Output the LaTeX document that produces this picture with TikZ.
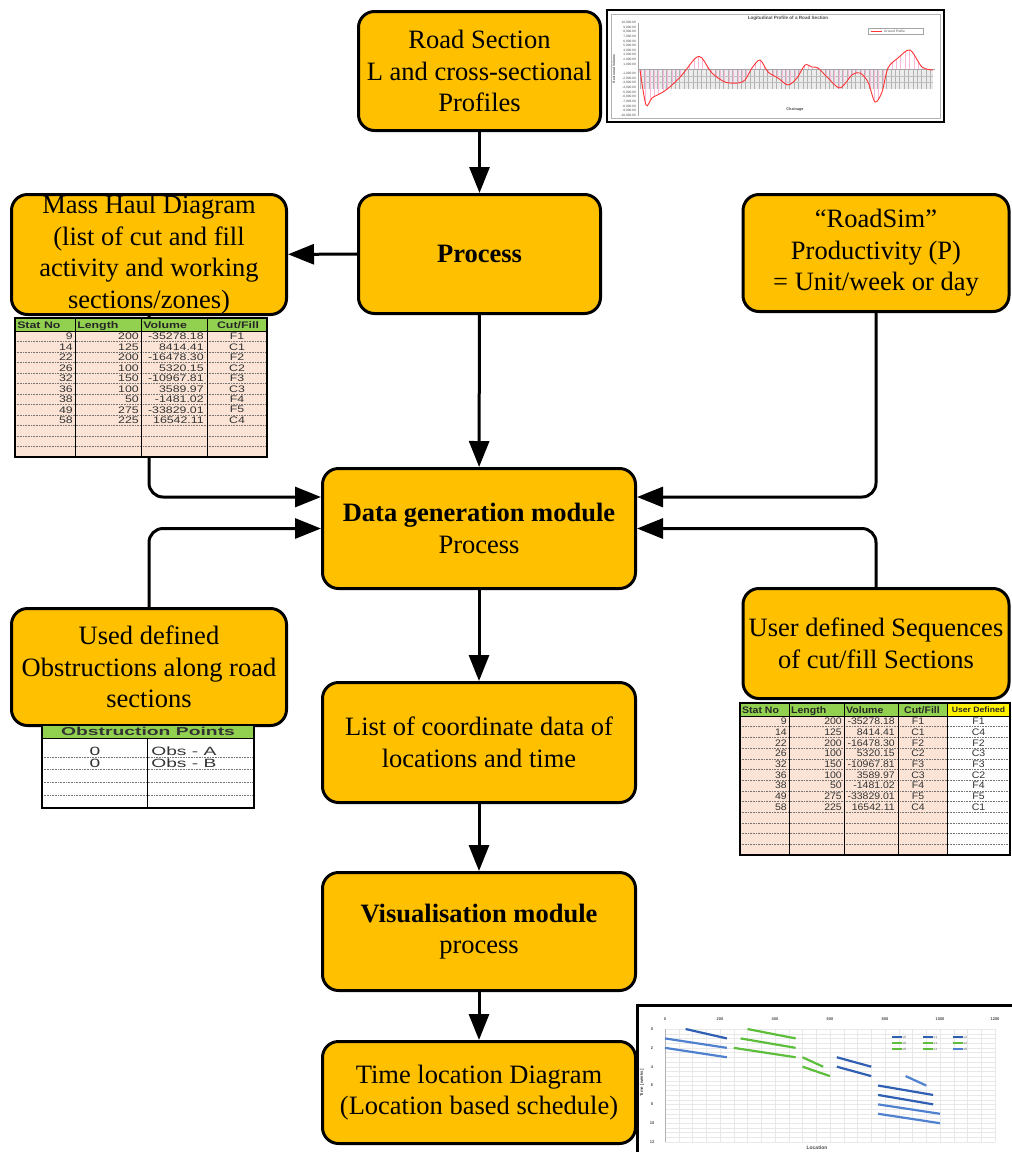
\documentclass[tikz,border=0pt]{standalone}
\usepackage{fontspec}
\setmainfont{Liberation Serif}
\setsansfont{Liberation Sans}
\usetikzlibrary{arrows.meta,positioning,calc}
\definecolor{BoxOrange}{HTML}{FFC000}
\definecolor{HeadGreen}{HTML}{92D050}
\definecolor{Peach}{HTML}{FBE4D5}
\definecolor{RoadBlue}{HTML}{2F5FB3}
\definecolor{RoadBlueL}{HTML}{4F81D0}
\definecolor{RoadGreen}{HTML}{5DBE3C}
\tikzset{
  procbox/.style={draw=black, line width=3pt, rounded corners=16pt,
    fill=BoxOrange, align=center, inner sep=0pt,
    font=\fontsize{26.5}{31.5}\selectfont},
  flowarr/.style={-{Triangle[length=26pt,width=20pt]}, line width=3pt},
  tabtxt/.style={font=\sffamily\fontsize{9.5}{9.5}\selectfont, inner sep=0pt,
    text=black!80, xscale=1.3, transform shape},
  tabhead/.style={font=\sffamily\bfseries\fontsize{9.5}{9.5}\selectfont, inner sep=0pt,
    text=black!85, xscale=1.3, transform shape},
  obtxt/.style={font=\sffamily\fontsize{12}{12}\selectfont, inner sep=0pt,
    text=black!80, xscale=1.6, transform shape},
  tabdots/.style={black!55, line width=0.5pt, dash pattern=on 0.8pt off 0.8pt},
  chtxt/.style={font=\sffamily\fontsize{3.2}{3.2}\selectfont, inner sep=0pt, text=black!70},
}

\begin{document}
\begin{tikzpicture}[x=1pt, y=-1pt,
  tl/.style={line width=2.2pt},
]
  \useasboundingbox (0,0) rectangle (1012,1152);

  % flow boxes
  \node[procbox, minimum width=242pt, minimum height=119pt] (rs) at (479.5,71)
    {Road Section\\L and cross-sectional\\Profiles};
  \node[procbox, minimum width=242pt, minimum height=119pt] (pr) at (479.5,254)
    {\textbf{Process}};
  \node[procbox, minimum width=275pt, minimum height=120pt] (mh) at (149,254.5)
    {Mass Haul Diagram\\(list of cut and fill\\activity and working\\sections/zones)};
  \node[procbox, minimum width=266pt, minimum height=117pt] (rsim) at (876,253)
    {“RoadSim”\\Productivity (P)\\= Unit/week or day};
  \node[procbox, minimum width=313pt, minimum height=120pt] (dg) at (479,528.5)
    {\textbf{Data generation module}\\Process};
  \node[procbox, minimum width=275pt, minimum height=117pt] (ob) at (149,667)
    {Used defined\\Obstructions along road\\sections};
  \node[procbox, minimum width=266pt, minimum height=110pt] (us) at (876,643.5)
    {User defined Sequences\\of cut/fill Sections};
  \node[procbox, minimum width=313pt, minimum height=120pt] (lc) at (479,742.5)
    {List of coordinate data of\\locations and time};
  \node[procbox, minimum width=313pt, minimum height=118pt] (vm) at (479,931.5)
    {\textbf{Visualisation module}\\process};
  \node[procbox, minimum width=313pt, minimum height=102pt] (tld) at (479,1092.5)
    {Time location Diagram\\(Location based schedule)};

  % connectors
  \draw[flowarr] (rs) -- (pr);
  \draw[flowarr] (pr) -- (mh);
  \draw[flowarr] (pr) -- (dg);
  \draw[flowarr] (dg) -- (lc);
  \draw[flowarr] (lc) -- (vm);
  \draw[flowarr] (vm) -- (tld);
  \draw[flowarr, rounded corners=14pt] (mh.south) |- ($(dg.west)+(0,-31.5)$);
  \draw[flowarr, rounded corners=14pt] (ob.north) |- (dg.west);
  \draw[flowarr, rounded corners=14pt] (rsim.south) |- ($(dg.east)+(0,-31.5)$);
  \draw[flowarr, rounded corners=14pt] (us.north) |- (dg.east);

  % mass haul table
  \fill[Peach] (15,331) rectangle (267,457);
  \fill[HeadGreen] (15,318) rectangle (267,331);
  \foreach \r in {1,...,11}
    \draw[tabdots] (15,{331+\r*10.5}) -- (267,{331+\r*10.5});
  \foreach \c in {75,141,207}
    \draw[line width=1pt] (\c,318) -- (\c,457);
  \draw[line width=1pt] (15,331) -- (267,331);
  \draw[line width=1.6pt] (15,318) rectangle (267,457);
  \node[tabhead, anchor=base west] (mhh1) at (17,328) {Stat No};
  \node[tabhead, anchor=base west] (mhh2) at (77,328) {Length};
  \node[tabhead, anchor=base west] (mhh3) at (143,328) {Volume};
  \node[tabhead, anchor=base] (mhh4) at (238,328) {Cut/Fill};
  \foreach \s/\l/\v/\f [count=\i] in {9/200/-35278.18/F1, 14/125/8414.41/C1,
      22/200/-16478.30/F2, 26/100/5320.15/C2, 32/150/-10967.81/F3,
      36/100/3589.97/C3, 38/50/-1481.02/F4, 49/275/-33829.01/F5,
      58/225/16542.11/C4} {
    \node[tabtxt, anchor=east] (mhs\i) at (73,{331+(\i-0.5)*10.5}) {\s};
    \node[tabtxt, anchor=east] (mhl\i) at (139,{331+(\i-0.5)*10.5}) {\l};
    \node[tabtxt, anchor=east] (mhv\i) at (204,{331+(\i-0.5)*10.5}) {\v};
    \node[tabtxt] (mhf\i) at (237,{331+(\i-0.5)*10.5}) {\f};
  }

  % user defined sequence table
  \fill[Peach] (740,716) rectangle (947,855);
  \fill[white] (947,716) rectangle (1010,855);
  \fill[HeadGreen] (740,703) rectangle (947,716);
  \fill[yellow] (947,703) rectangle (1010,716);
  \foreach \r in {1,...,12}
    \draw[tabdots] (740,{716+\r*10.7}) -- (1010,{716+\r*10.7});
  \foreach \c in {789,844,898,947}
    \draw[line width=1pt] (\c,703) -- (\c,855);
  \draw[line width=1pt] (740,716) -- (1010,716);
  \draw[line width=1.6pt] (740,703) rectangle (1010,855);
  \begin{scope}[every node/.append style={xscale=0.85}]
    \node[tabhead, anchor=base west] (udh1) at (742,713) {Stat No};
    \node[tabhead, anchor=base west] (udh2) at (791,713) {Length};
    \node[tabhead, anchor=base west] (udh3) at (846,713) {Volume};
    \node[tabhead, anchor=base] (udh4) at (922,713) {Cut/Fill};
    \node[tabhead, anchor=base, font=\sffamily\bfseries\fontsize{7.8}{7.8}\selectfont] (udh5) at (978.5,712.5) {User Defined};
    \foreach \s/\l/\v/\f/\u [count=\i] in {9/200/-35278.18/F1/F1, 14/125/8414.41/C1/C4,
        22/200/-16478.30/F2/F2, 26/100/5320.15/C2/C3, 32/150/-10967.81/F3/F3,
        36/100/3589.97/C3/C2, 38/50/-1481.02/F4/F4, 49/275/-33829.01/F5/F5,
        58/225/16542.11/C4/C1} {
      \node[tabtxt, anchor=east] (uds\i) at (787,{716+(\i-0.5)*10.7}) {\s};
      \node[tabtxt, anchor=east] (udl\i) at (842,{716+(\i-0.5)*10.7}) {\l};
      \node[tabtxt, anchor=east] (udv\i) at (895,{716+(\i-0.5)*10.7}) {\v};
      \node[tabtxt] (udf\i) at (918,{716+(\i-0.5)*10.7}) {\f};
      \node[tabtxt] (udu\i) at (978.5,{716+(\i-0.5)*10.7}) {\u};
    }
  \end{scope}

  % obstruction table
  \fill[HeadGreen] (42,725) rectangle (254,738);
  \foreach \y in {757,769,782,795}
    \draw[tabdots] (42,\y) -- (254,\y);
  \draw[line width=1pt] (147,738) -- (147,808);
  \draw[line width=1pt] (42,738) -- (254,738);
  \draw[line width=1.6pt] (42,725) rectangle (254,808);
  \node[obtxt, font=\sffamily\bfseries\fontsize{11.5}{11.5}\selectfont, xscale=1.05] (obh) at (148,731.5) {Obstruction Points};
  \node[obtxt] (obz1) at (95,751) {0};
  \node[obtxt] (obz2) at (95,763) {0};
  \node[obtxt, anchor=west] (oba) at (151,751) {Obs - A};
  \node[obtxt, anchor=west] (obb) at (151,763) {Obs - B};

  % longitudinal profile chart
  \fill[white] (607,10) rectangle (944,122);
  \draw[gray!60, line width=0.5pt] (611,14) rectangle (940,118);
  \draw[line width=2pt] (607,10) rectangle (944,122);
  \fill[gray!15] (640,69) rectangle (933,89);
  \foreach \k in {0,...,66}
    \draw[gray!60, line width=0.3pt] ({640+\k*4.4},69) -- ++(0,20);
  \foreach \y in {76,82}
    \draw[gray!50, line width=0.3pt] (640,\y) -- (933,\y);
  \begin{scope}
    \clip plot[smooth] coordinates {(640,70) (646,105) (652,98) (663,92) (672,85)
      (682,75) (692,62) (697,57) (702,58) (712,73) (725,82) (738,83) (745,80)
      (752,68) (760,60) (768,72) (778,78) (788,85) (797,78) (805,65) (812,67)
      (818,68) (828,78) (840,88) (852,75) (860,73) (868,82) (875,102) (882,92)
      (888,68) (898,58) (910,50) (922,67) (933,70)} -- (933,69) -- (640,69) -- cycle;
    \foreach \k in {0,...,66}
      \draw[magenta!28, line width=0.4pt] ({641+\k*4.4},20) -- ++(0,98);
  \end{scope}
  \draw[gray!70, line width=0.4pt] (638,23) -- (638,116);
  \draw[gray!70, line width=0.4pt] (638,69) -- (935,69);
  \draw[red!80, line width=0.9pt] plot[smooth] coordinates {(640,70) (646,105) (652,98) (663,92) (672,85)
      (682,75) (692,62) (697,57) (702,58) (712,73) (725,82) (738,83) (745,80)
      (752,68) (760,60) (768,72) (778,78) (788,85) (797,78) (805,65) (812,67)
      (818,68) (828,78) (840,88) (852,75) (860,73) (868,82) (875,102) (882,92)
      (888,68) (898,58) (910,50) (922,67) (933,70)};
  \foreach \v in {10,...,-10} {
    \ifnum\v=0
      \node[chtxt, anchor=east] (pcy\v) at (636,{69-\v*4.65}) {-};
    \else
      \node[chtxt, anchor=east] (pcy\v) at (636,{69-\v*4.65}) {\v,000.00};
    \fi
  }
  \node[chtxt, font=\sffamily\bfseries\fontsize{4.6}{4.6}\selectfont] (pctitle) at (788,18) {Logitudinal Profile of a Road Section};
  \node[chtxt, rotate=90, font=\sffamily\bfseries\fontsize{3.4}{3.4}\selectfont] (pcylab) at (614,69) {Sectional Volume};
  \node[chtxt, font=\sffamily\bfseries\fontsize{3.8}{3.8}\selectfont] (pcxlab) at (795,110) {Chainage};
  \draw[gray!70, line width=0.4pt] (868,28) rectangle (923,34);
  \draw[red!80, line width=0.8pt] (871,31) -- (882,31);
  \node[chtxt, anchor=west] (pcleg) at (884,31) {Ground Profile};

  % time location chart
  \foreach \k in {0,...,24}
    \draw[gray!18, line width=0.3pt] ({665+\k*13.75},1029) -- ++(0,113);
  \foreach \k in {0,...,24}
    \draw[gray!18, line width=0.3pt] (665,{1029+\k*4.71}) -- ++(330,0);
  \draw[gray!60, line width=0.4pt] (665,1029) -- (665,1142);
  \draw[line width=3pt] (637,1152) -- (637,1005) -- (1012,1005);
  \foreach \v [count=\k from 0] in {0,200,...,1200}
    \node[chtxt, font=\sffamily\bfseries\fontsize{4}{4}\selectfont] (tcx\k) at ({665+\k*55},1019) {\v};
  \foreach \v [count=\k from 0] in {0,2,...,12}
    \node[chtxt, font=\sffamily\bfseries\fontsize{4}{4}\selectfont] (tcy\k) at (652,{1029+\k*18.83}) {\v};
  \node[chtxt, font=\sffamily\bfseries\fontsize{5}{5}\selectfont] (tcxlab) at (817,1148) {Location};
  \node[chtxt, rotate=90, font=\sffamily\bfseries\fontsize{4.4}{4.4}\selectfont] (tcylab) at (642,1083) {Time [weeks]};
  \foreach \a/\b/\c/\d/\col in {75/0/225/1/RoadBlue, 0/1/225/2/RoadBlueL, 0/2/225/3/RoadBlueL,
      300/0/475/1/RoadGreen, 275/1/475/2/RoadGreen, 250/2/475/3/RoadGreen,
      500/3/575/4/RoadGreen, 500/4/600/5/RoadGreen,
      625/3/750/4/RoadBlue, 625/4/750/5/RoadBlue, 875/5/950/6/RoadBlueL,
      775/6/975/7/RoadBlue, 775/7/975/8/RoadBlue, 775/8/1000/9/RoadBlueL, 775/9/1000/10/RoadBlueL}
    \draw[tl, \col] ({665+\a*0.275},{1029+\b*9.42}) -- ({665+\c*0.275},{1029+\d*9.42});
  \foreach \x/\y/\t/\col in {892/1037/v0/RoadBlue, 923/1037/v1/RoadBlue, 953/1037/v2/RoadBlue,
      892/1043/v0/RoadGreen, 923/1043/v1/RoadGreen, 953/1043/v2/RoadGreen,
      892/1049/v0/RoadGreen, 923/1049/v1/RoadGreen, 953/1049/v0/RoadBlueL} {
    \draw[\col, line width=1.1pt] (\x,\y) -- ++(10,0);
    \node[chtxt, anchor=west] at ({\x+10.5},\y) {\t};
  }
\end{tikzpicture}
\end{document}
